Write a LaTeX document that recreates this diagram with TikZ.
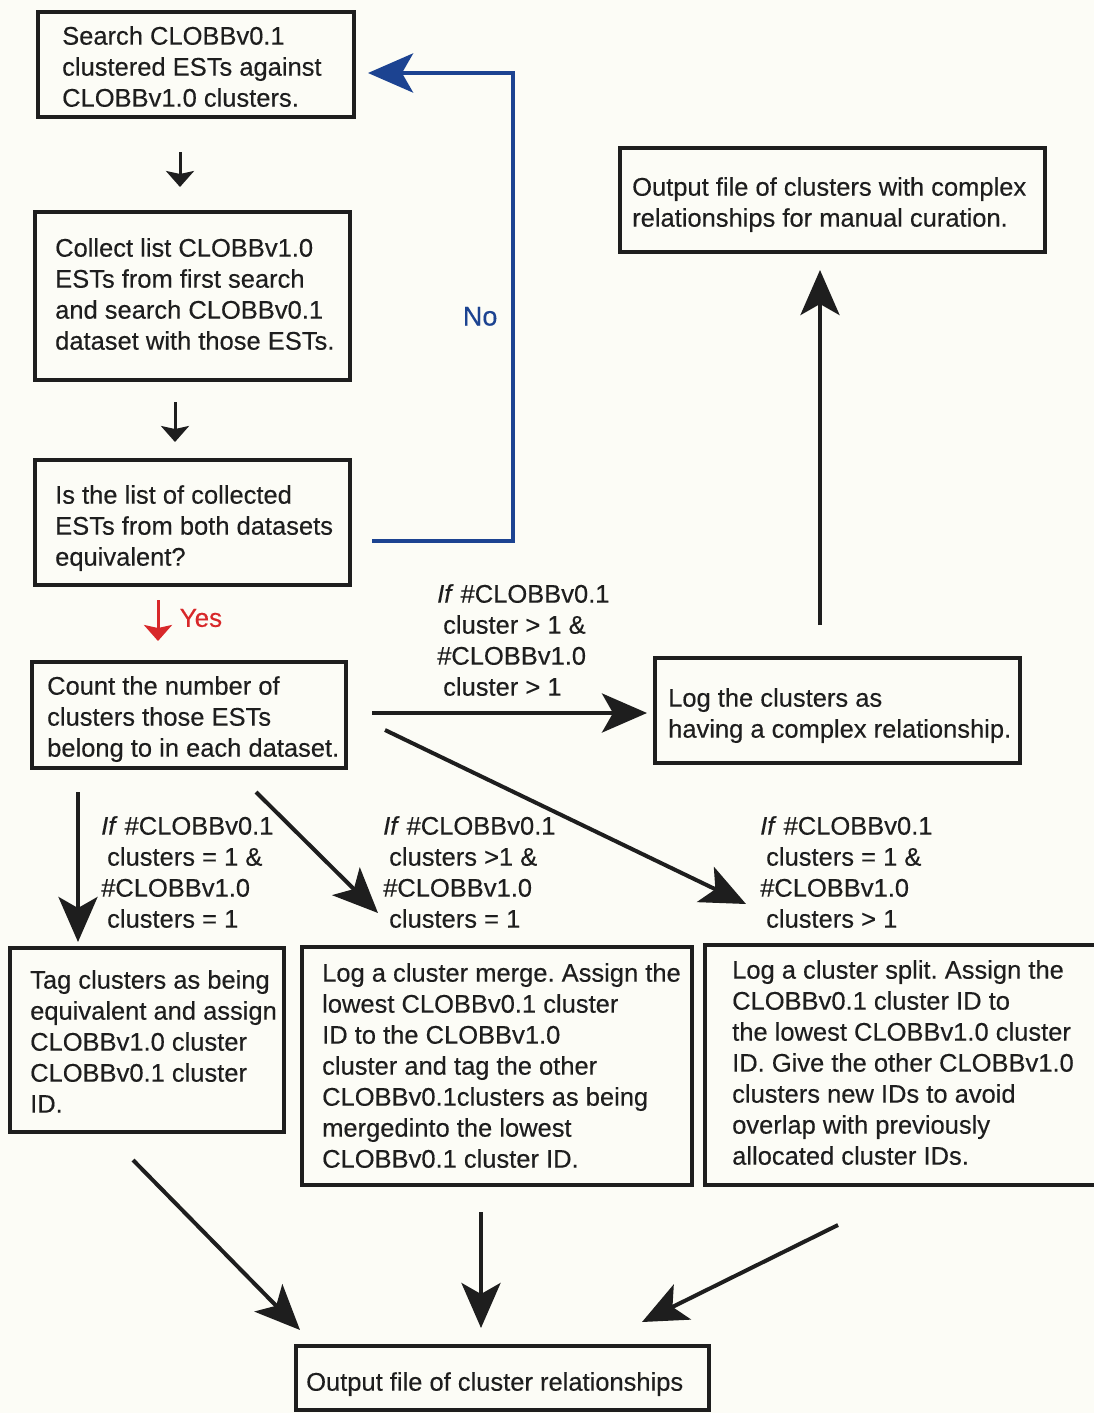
\documentclass[tikz,border=0pt]{standalone}
\usepackage{fontspec}
\setmainfont{Liberation Sans}
\newfontfamily\inkfont{Liberation Sans}[FakeBold=0.3]
\usetikzlibrary{arrows.meta,calc}
\definecolor{paper}{HTML}{FCFCF6}
\definecolor{ink}{HTML}{1E1E1E}
\definecolor{noblue}{HTML}{1C4391}
\definecolor{yesred}{HTML}{D8282A}
\frenchspacing
\begin{document}
\begin{tikzpicture}[x=1pt,y=-1pt,
  box/.style={draw=ink,line width=4.5pt,anchor=north west,inner sep=0pt,outer sep=0pt},
  txt/.style={anchor=north west,inner sep=0pt,align=left,text=ink,
    font=\inkfont\fontsize{25.5}{31}\selectfont},
  small/.style={draw=ink,line width=3pt,-{Stealth[length=16pt,width=28pt,inset=3pt]}},
  big/.style={draw=ink,line width=4pt,-{Stealth[length=45pt,width=39pt,inset=11pt]}},
]
% page
\fill[paper] (0,0) rectangle (1094,1413);
\useasboundingbox (0,0) rectangle (1094,1413);

% boxes
\node[box,minimum width=316pt,minimum height=105pt] (search) at (38,12) {};
\node[box,minimum width=315pt,minimum height=168pt] (collect) at (35,212) {};
\node[box,minimum width=315pt,minimum height=125pt] (equiv) at (35,460) {};
\node[box,minimum width=314pt,minimum height=106pt] (count) at (32,662) {};
\node[box,minimum width=425pt,minimum height=104pt] (outcx) at (620,148) {};
\node[box,minimum width=365pt,minimum height=105pt] (logcx) at (655,658) {};
\node[box,minimum width=274pt,minimum height=184pt] (tag) at (10,948) {};
\node[box,minimum width=390pt,minimum height=238pt] (merge) at (302,947) {};
\node[box,minimum width=395pt,minimum height=240pt] (split) at (705,945) {};
\node[box,minimum width=413pt,minimum height=64pt] (out) at (296,1346) {};

% box texts
\node[txt] (searcht) at (62,26) {Search CLOBBv0.1\\clustered ESTs against\\CLOBBv1.0 clusters.};
\node[txt] (collectt) at (55,238) {Collect list CLOBBv1.0\\ESTs from first search\\and search CLOBBv0.1\\dataset with those ESTs.};
\node[txt] (equivt) at (55,485) {Is the list of collected\\ESTs from both datasets\\equivalent?};
\node[txt] (countt) at (47,676) {Count the number of\\clusters those ESTs\\belong to in each dataset.};
\node[txt] (outcxt) at (632,177) {Output file of clusters with complex\\relationships for manual curation.};
\node[txt] (logcxt) at (668,688) {Log the clusters as\\having a complex relationship.};
\node[txt] (tagt) at (30,970) {Tag clusters as being\\equivalent and assign\\CLOBBv1.0 cluster\\CLOBBv0.1 cluster\\ID.};
\node[txt] (merget) at (322,963) {Log a cluster merge. Assign the\\lowest CLOBBv0.1 cluster\\ID to the CLOBBv1.0\\cluster and tag the other\\CLOBBv0.1clusters as being\\mergedinto the lowest\\CLOBBv0.1 cluster ID.};
\node[txt] (splitt) at (732,960) {Log a cluster split. Assign the\\CLOBBv0.1 cluster ID to\\the lowest CLOBBv1.0 cluster\\ID. Give the other CLOBBv1.0\\clusters new IDs to avoid\\overlap with previously\\allocated cluster IDs.};
\node[txt] (outt) at (306,1372) {Output file of cluster relationships};

% condition labels
\node[txt] (lblA) at (437,584) {\textit{If} \#CLOBBv0.1\\\hspace{6pt}cluster > 1 \&\\\#CLOBBv1.0\\\hspace{6pt}cluster > 1};
\node[txt] (lblB) at (101,816) {\textit{If} \#CLOBBv0.1\\\hspace{6pt}clusters = 1 \&\\\#CLOBBv1.0\\\hspace{6pt}clusters = 1};
\node[txt] (lblC) at (383,816) {\textit{If} \#CLOBBv0.1\\\hspace{6pt}clusters >1 \&\\\#CLOBBv1.0\\\hspace{6pt}clusters = 1};
\node[txt] (lblD) at (760,816) {\textit{If} \#CLOBBv0.1\\\hspace{6pt}clusters = 1 \&\\\#CLOBBv1.0\\\hspace{6pt}clusters > 1};

% main sequence
\draw[small] ($(search.south)+(-16,35)$) -- ($(collect.north)+(-12.5,-25)$);
\draw[small] ($(collect.south)+(-17.5,22)$) -- ($(equiv.north)+(-17.5,-18)$);
\draw[small,draw=yesred] ($(equiv.south)+(-34.5,15)$) -- ($(count.north)+(-31,-21)$);
\node[anchor=west,inner sep=0pt,text=yesred,font=\inkfont\fontsize{26}{31}\selectfont] (yes)
  at ($(equiv.south)+(-13,33)$) {Yes};

% loop back when the lists differ
\draw[big,draw=noblue,line width=4.5pt] ($(equiv.east)+(22,18.5)$) -- ++(141,0)
  |- node[pos=0.24,left=10pt,text=noblue,font=\inkfont\fontsize{27}{31}\selectfont] (no) {No}
  ($(search.east)+(14,8.5)$);

% outcomes of the count
\draw[big] ($(count.east)+(26,-2)$) -- ($(logcx.west)+(-8,2.5)$);
\draw[big] ($(logcx.north)+(-17.5,-33)$) -- ($(outcx.south)+(-12.5,18)$);
\draw[big] ($(count.south)+(-111,24)$) -- ($(tag.north)+(-69,-6)$);
\draw[big] ($(count.south)+(67,24)$) -- ($(merge.north)+(-119,-34)$);
\draw[big] ($(count.east)+(39,15)$) -- ($(split.north)+(-156.5,-41)$);

% into the relationship file
\draw[big] ($(tag.south)+(-14,28)$) -- ($(out.north)+(-202.5,-16)$);
\draw[big] ($(merge.south)+(-16,27)$) -- ($(out.north)+(-21.5,-18)$);
\draw[big] ($(split.south)+(-64.5,40)$) -- ($(out.north)+(139.5,-24)$);
\end{tikzpicture}
\end{document}
